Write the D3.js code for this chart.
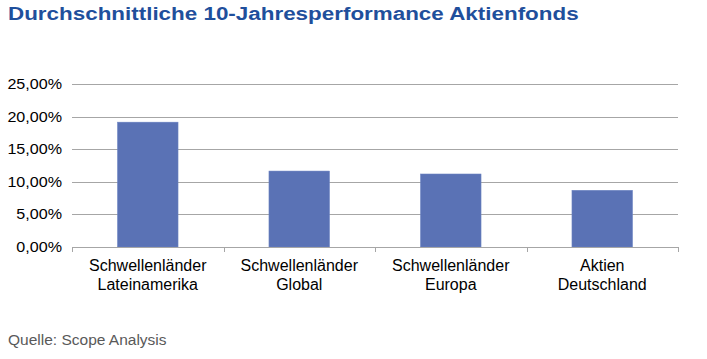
<!DOCTYPE html>
<html><head><meta charset="utf-8">
<script src="https://cdn.jsdelivr.net/npm/d3@7"></script>
<style>body{margin:0;background:#fff;}svg{display:block;font-family:"Liberation Sans",Arial,sans-serif;}</style>
</head><body>
<svg id="c" width="707" height="359"></svg>
<script>
const categories = [["Schwellenländer","Lateinamerika"],["Schwellenländer","Global"],["Schwellenländer","Europa"],["Aktien","Deutschland"]];
const values = [19.15, 11.65, 11.2, 8.7];
const yTicks = [0,5,10,15,20,25];
const title = "Durchschnittliche 10-Jahresperformance Aktienfonds";
const source = "Quelle: Scope Analysis";

const svg = d3.select("#c");
const L=72,R=678,T=84,B=247;
const x = d3.scaleBand().domain(d3.range(categories.length)).range([L,R]).paddingInner(0.6).paddingOuter(0.3);
const y = d3.scaleLinear().domain([0,25]).range([B,T]);

svg.append("text").attr("transform","translate(8,19.5) scale(1.18,1)").attr("fill","#1f4f9c").attr("font-size",19).attr("font-weight","bold")
  .text(title);

svg.append("g").selectAll("line").data(yTicks.filter(d=>d>0)).join("line")
  .attr("x1",L).attr("x2",R).attr("y1",d=>Math.round(y(d))+0.5).attr("y2",d=>Math.round(y(d))+0.5)
  .attr("stroke","#a6a6a6").attr("stroke-width",1);

svg.append("g").selectAll("text").data(yTicks).join("text")
  .attr("transform",d=>`translate(62,${y(d)+5}) scale(1.15,1)`).attr("text-anchor","end").attr("font-size",14).attr("fill","#000")
  .text(d=>d3.format(".2f")(d).replace(".",",")+"%");

svg.append("g").selectAll("rect").data(values).join("rect")
  .attr("x",(d,i)=>x(i)).attr("width",x.bandwidth()).attr("y",d=>y(d)).attr("height",d=>B-y(d))
  .attr("fill","#5a72b5").attr("stroke","#6f86c4").attr("stroke-width",0.5);

// baseline and ticks
svg.append("line").attr("x1",L).attr("x2",R).attr("y1",B+0.5).attr("y2",B+0.5).attr("stroke","#a6a6a6");
const step=(R-L)/categories.length;
svg.append("g").selectAll("line").data(d3.range(categories.length+1)).join("line")
  .attr("x1",i=>Math.round(L+i*step)+0.5).attr("x2",i=>Math.round(L+i*step)+0.5).attr("y1",B).attr("y2",B+5)
  .attr("stroke","#a6a6a6");

const cl = svg.append("g").selectAll("text").data(categories).join("text")
  .attr("text-anchor","middle").attr("font-size",16).attr("fill","#000");
cl.each(function(d,i){
  const t=d3.select(this), cx=L+step*(i+0.5);
  d.forEach((s,j)=>t.append("tspan").attr("x",cx).attr("y",271+j*19).text(s));
});

svg.append("text").attr("x",8).attr("y",345).attr("font-size",15.5).attr("fill","#595959").text(source);
</script>
</body></html>
